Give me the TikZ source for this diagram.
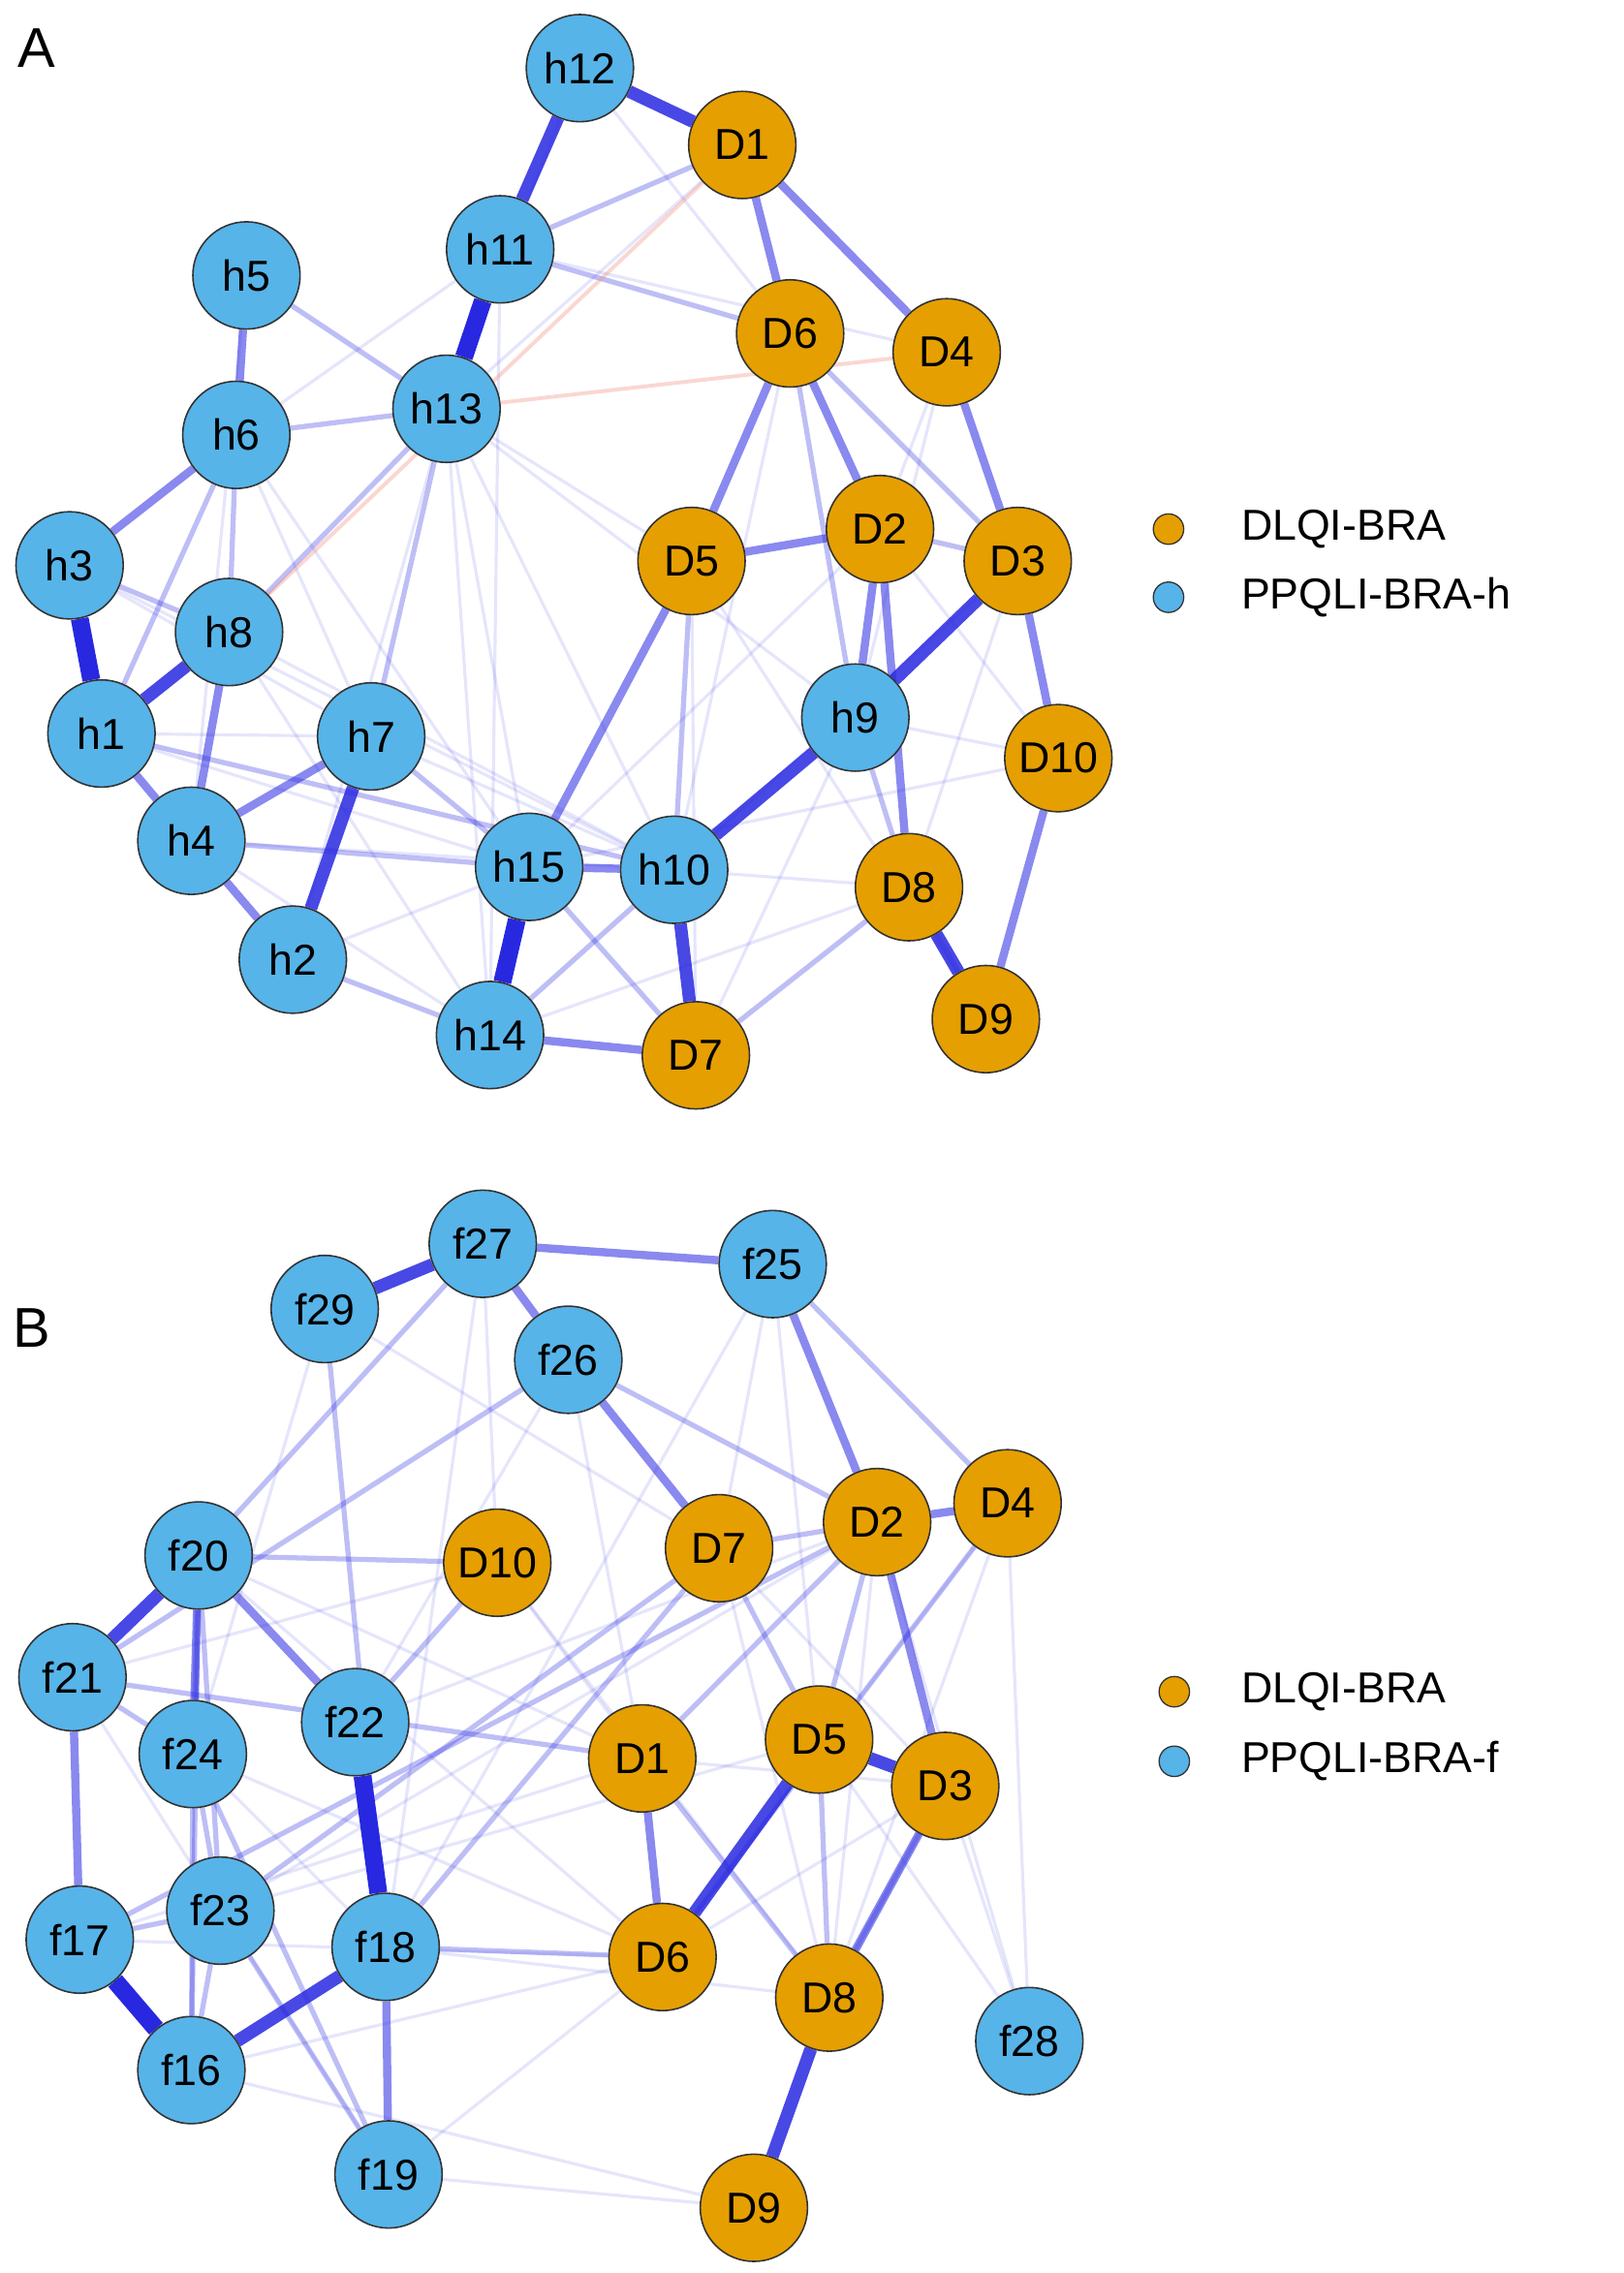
\documentclass[tikz,border=0pt]{standalone}
\usepackage{fontspec}
\setmainfont{Liberation Sans}
\usetikzlibrary{backgrounds}

\definecolor{dlqi}{RGB}{230,159,0}
\definecolor{ppqli}{RGB}{86,180,233}
\definecolor{edgeblue}{RGB}{40,40,225}
\definecolor{edgered}{RGB}{240,140,120}

\tikzset{
  item/.style={circle, draw=black!80, line width=0.6pt, minimum size=1.48cm, inner sep=0pt,
    font=\fontsize{17}{20}\selectfont},
  dl/.style={item, fill=dlqi},
  pq/.style={item, fill=ppqli},
  w1/.style={edgeblue, opacity=0.12, line width=1.2pt},
  w2/.style={edgeblue, opacity=0.3, line width=2pt},
  w3/.style={edgeblue, opacity=0.55, line width=3.2pt},
  w4/.style={edgeblue, opacity=0.85, line width=5pt},
  w5/.style={edgeblue, line width=7pt},
  neg/.style={edgered, opacity=0.35, line width=1.5pt},
  dot/.style={circle, draw=black!80, line width=0.5pt, minimum size=0.42cm, inner sep=0pt},
  legtext/.style={anchor=west, font=\fontsize{17}{20}\selectfont},
  panel/.style={font=\fontsize{22}{26}\selectfont}
}

\begin{document}
\begin{tikzpicture}[x=0.02cm, y=-0.02cm]
\useasboundingbox (0,0) rectangle (1120,1568);

% Panel A
\node[panel] (labA) at (25,33) {A};
\foreach \n/\x/\y in {h12/400/47, h11/345/172, h5/170/190, h6/163/300, h13/308/282,
  h3/48/390, h8/158/436, h1/70/506, h7/256/508, h9/590/495, h4/132/580,
  h15/365/598, h10/465/600, h2/202/662, h14/338/714}
  \node[pq] (A\n) at (\x,\y) {\n};
\foreach \n/\x/\y in {D1/512/100, D6/545/230, D4/653/243, D5/477/387, D2/607/365,
  D3/702/387, D10/730/523, D8/627/612, D7/480/728, D9/680/703}
  \node[dl] (A\n) at (\x,\y) {\n};

\begin{scope}[on background layer]
% weak links
\foreach \a/\b in {h12/h13, h12/D6, h11/h6, h11/D4, h13/h14, h13/h15, h13/h10, h13/h2,
  h6/h7, h6/h15, h3/h7, h8/h10, h1/h15, h1/h7, h4/h10, h7/h10, h15/D2, h10/D3,
  h10/D8, h9/D7, h9/D10, D5/D9, D5/D7, D2/D10, D4/h9, D1/h13, D6/h10, h14/D8,
  h2/h15, h8/h14, h5/h4, h13/h9, h11/h14, D3/D8, h4/h14, h3/h10, D4/D2, h15/D10, h13/D5}
  \draw[w1] (A\a) -- (A\b);
\foreach \a/\b in {h5/h13, h11/D6, h13/h7, h13/h6, h6/h8, h3/h8, h4/h15, h7/h15,
  h2/h14, h15/D7, D5/h10, D6/D3, D6/h9, D2/D3, D9/D8, D7/D8, h14/h10, h9/D8,
  h11/D1, h6/h1, h13/h8, h1/h10, h3/h1}
  \draw[w2] (A\a) -- (A\b);
\draw[neg] (AD1) -- (Ah8);
\draw[neg] (AD4) -- (Ah13);
\foreach \a/\b in {D1/D6, D1/D4, D4/D3, D3/D10, D10/D9, D6/D5, D6/D2, D5/h15,
  D5/D2, h5/h6, h6/h3, h8/h4, h1/h4, h4/h7, h4/h2, h15/h10, h14/D7, D2/D8, D2/h9}
  \draw[w3] (A\a) -- (A\b);
\foreach \a/\b in {h12/h11, h12/D1, h1/h8, h7/h2, h9/h10, h9/D3, h10/D7, D8/D9}
  \draw[w4] (A\a) -- (A\b);
\foreach \a/\b in {h11/h13, h3/h1, h15/h14}
  \draw[w5] (A\a) -- (A\b);
\end{scope}

\node[dot, fill=dlqi] (legAd) at (806,365) {};
\node[legtext] (legAdt) at (850,365) {DLQI-BRA};
\node[dot, fill=ppqli] (legAp) at (806,412) {};
\node[legtext] (legApt) at (850,412) {PPQLI-BRA-h};

% Panel B
\node[panel] (labB) at (22,916) {B};
\foreach \n/\x/\y in {f27/333/858, f25/533/872, f29/224/903, f26/392/938, f20/137/1073,
  f21/50/1157, f24/133/1210, f22/245/1188, f23/152/1318, f17/55/1338,
  f18/266/1343, f28/710/1408, f16/132/1428, f19/268/1500}
  \node[pq] (B\n) at (\x,\y) {\n};
\foreach \n/\x/\y in {D4/695/1037, D2/605/1050, D7/496/1068, D10/343/1078, D1/443/1213,
  D5/565/1200, D3/652/1232, D6/457/1350, D8/572/1378, D9/520/1523}
  \node[dl] (B\n) at (\x,\y) {\n};

\begin{scope}[on background layer]
\foreach \a/\b in {f27/D10, f27/f18, f29/D7, f26/f22, f26/D1, f25/D7, f25/D5, f25/f18,
  f20/D1, f20/D6, f21/D10, f24/D6, f23/D2, f17/D1, f16/D6, f16/D9, f19/D9, f19/D6,
  f18/D8, D10/D8, D10/D1, D7/D3, D7/D8, D4/D8, D4/f28, D2/f28, D3/f28, D5/f28,
  D1/D3, D6/D3, f22/D2, f23/D5, f29/f24, f24/f18, D4/D6, f21/f19, D2/D8, f17/D6}
  \draw[w1] (B\a) -- (B\b);
\foreach \a/\b in {f29/f18, f27/f20, f26/f21, f25/D4, f26/D2, f20/D10, f20/f24,
  f20/f16, f20/f23, f21/f24, f21/D1, f24/f16, f24/f19, f23/f16, f23/f19, f23/D7,
  f17/f23, f17/D2, f18/D6, f18/D7, f22/D10, D7/D5, D1/D8, D5/D8, D7/D2, D2/D5,
  D1/D2, D6/D4, f24/f23, D3/D8}
  \draw[w2] (B\a) -- (B\b);
\foreach \a/\b in {f27/f25, f27/f26, f26/D7, f25/D2, f20/f22, f21/f17, f18/f19,
  D2/D4, D2/D3, D1/D6, D3/D8, f20/f24}
  \draw[w3] (B\a) -- (B\b);
\foreach \a/\b in {f29/f27, f20/f21, f18/f16, D5/D3, D5/D6, D8/D9}
  \draw[w4] (B\a) -- (B\b);
\foreach \a/\b in {f22/f18, f16/f17}
  \draw[w5] (B\a) -- (B\b);
\end{scope}

\node[dot, fill=dlqi] (legBd) at (810,1167) {};
\node[legtext] (legBdt) at (850,1167) {DLQI-BRA};
\node[dot, fill=ppqli] (legBp) at (810,1215) {};
\node[legtext] (legBpt) at (850,1215) {PPQLI-BRA-f};
\end{tikzpicture}
\end{document}
